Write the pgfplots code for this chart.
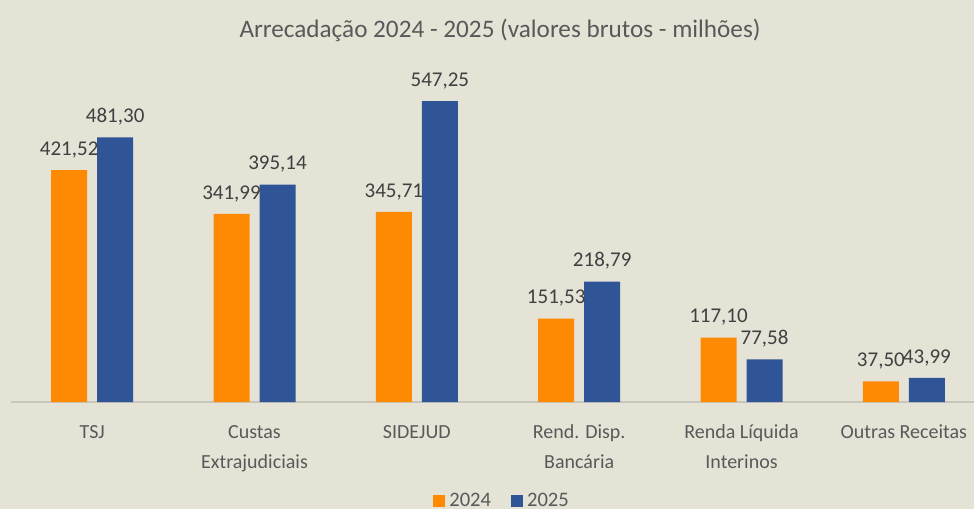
\documentclass[border=0pt]{standalone}
\usepackage{fontspec}
\setmainfont{Carlito}
\usepackage{pgfplots}
\pgfplotsset{compat=1.18}
\definecolor{bg}{RGB}{229,226,214}
\definecolor{c24}{RGB}{253,138,2}
\definecolor{c25}{RGB}{47,85,151}
\definecolor{txt}{RGB}{89,89,89}
\definecolor{lbl}{RGB}{64,64,64}
\definecolor{axl}{RGB}{200,198,188}
\begin{document}
\begin{tikzpicture}[x=1pt,y=1pt]
\fill[bg] (0,0) rectangle (487,254.5);
\useasboundingbox (0,0) rectangle (487,254.5);
\begin{axis}[
  at={(5.5pt,53.5pt)}, anchor=south west,
  scale only axis, width=481.5pt, height=171pt,
  xmin=-0.5, xmax=5.432, ymin=0, ymax=621.8,
  ybar=5pt, bar width=18pt,
  axis x line*=bottom, axis y line=none,
  x axis line style={-, draw=axl, line width=0.8pt},
  major tick length=0pt,
  xtick={0,1,2,3,4,5},
  xticklabels={TSJ, Custas\\Extrajudiciais, SIDEJUD, Rend. Disp.\\Bancária, Renda Líquida\\Interinos, Outras Receitas},
  x tick label style={align=center, text=txt, font={\fontsize{10}{15}\selectfont}, yshift=-8pt},
  /pgf/number format/assume math mode=true,
  /pgf/number format/.cd, fixed, fixed zerofill, precision=2, use comma, 1000 sep={},
  /pgfplots/.cd,
  nodes near coords,
  nodes near coords style={text=lbl, font=\fontsize{10.5}{12}\selectfont, yshift=2.5pt},
  clip=false,
  legend style={at={(0.511,-0.29)}, anchor=center, draw=none, fill=none,
    legend columns=2, font=\fontsize{10.3}{12}\selectfont, text=txt,
    /tikz/every even column/.append style={column sep=8pt}},
  legend image code/.code={\fill[#1,draw=none] (0pt,-3pt) rectangle (6pt,3pt);},
]
\addplot[fill=c24, draw=none] coordinates {(0,421.52) (1,341.99) (2,345.71) (3,151.53) (4,117.10) (5,37.50)};
\addplot[fill=c25, draw=none] coordinates {(0,481.30) (1,395.14) (2,547.25) (3,218.79) (4,77.58) (5,43.99)};
\legend{2024, 2025}
\end{axis}
\node[text=txt, font=\fontsize{12.6}{15}\selectfont] at (250,239.5) {Arrecadação 2024 - 2025 (valores brutos - milhões)};
\end{tikzpicture}
\end{document}
